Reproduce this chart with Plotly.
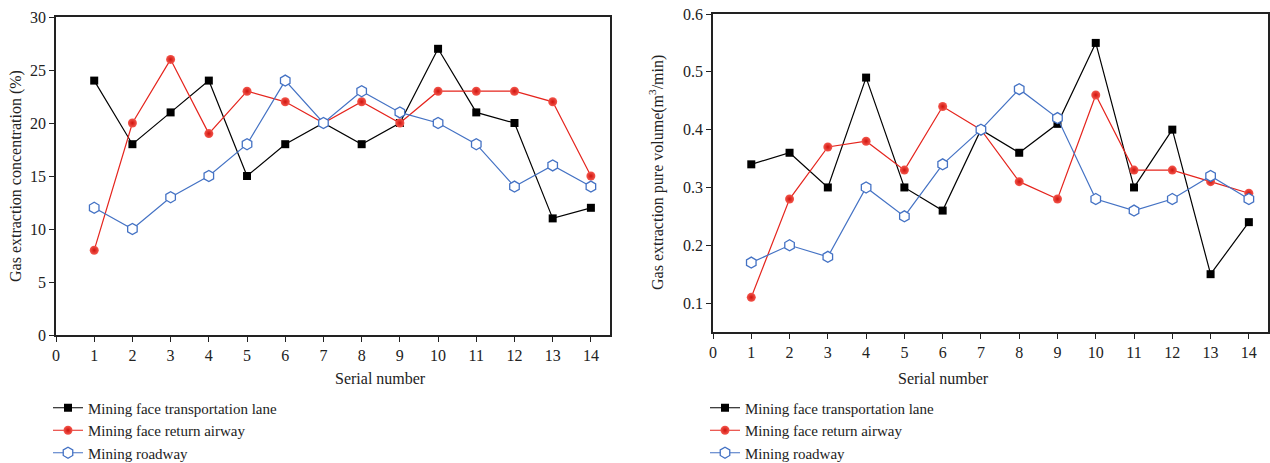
import plotly.graph_objects as go

serial = list(range(1, 15))

conc_transport = [24, 18, 21, 24, 15, 18, 20, 18, 20, 27, 21, 20, 11, 12]
conc_return = [8, 20, 26, 19, 23, 22, 20, 22, 20, 23, 23, 23, 22, 15]
conc_roadway = [12, 10, 13, 15, 18, 24, 20, 23, 21, 20, 18, 14, 16, 14]

vol_transport = [0.34, 0.36, 0.30, 0.49, 0.30, 0.26, 0.40, 0.36, 0.41, 0.55, 0.30, 0.40, 0.15, 0.24]
vol_return = [0.11, 0.28, 0.37, 0.38, 0.33, 0.44, 0.40, 0.31, 0.28, 0.46, 0.33, 0.33, 0.31, 0.29]
vol_roadway = [0.17, 0.20, 0.18, 0.30, 0.25, 0.34, 0.40, 0.47, 0.42, 0.28, 0.26, 0.28, 0.32, 0.28]

names = ["Mining face transportation lane", "Mining face return airway", "Mining roadway"]

FONT = "Liberation Serif"
FS = 16
BLACK = "#000000"
RED = "#e5241d"
BLUE = "#4472c4"

fig = go.Figure()


def add_series(x, y, xa, ya, legend):
    fig.add_trace(go.Scatter(
        x=x, y=y[0], xaxis=xa, yaxis=ya, name=names[0], legend=legend,
        mode="lines+markers", line=dict(color=BLACK, width=1.2),
        marker=dict(symbol="square", size=8, color=BLACK)))
    fig.add_trace(go.Scatter(
        x=x, y=y[1], xaxis=xa, yaxis=ya, name=names[1], legend=legend,
        mode="lines+markers", line=dict(color=RED, width=1.2),
        marker=dict(symbol="circle", size=9, color="#f4574d",
                    gradient=dict(type="radial", color="#d0140e"),
                    line=dict(width=0))))
    fig.add_trace(go.Scatter(
        x=x, y=y[2], xaxis=xa, yaxis=ya, name=names[2], legend=legend,
        mode="lines+markers", line=dict(color=BLUE, width=1.2),
        marker=dict(symbol="hexagon", size=11, color="white",
                    line=dict(color=BLUE, width=1.3))))


add_series(serial, [conc_transport, conc_return, conc_roadway], "x", "y", "legend")
add_series(serial, [vol_transport, vol_return, vol_roadway], "x2", "y2", "legend2")

axis_common = dict(
    showline=True, linecolor="#222", linewidth=1.6, mirror=True,
    ticks="outside", ticklen=5, tickwidth=1.2, tickcolor="#222",
    showgrid=False, zeroline=False, automargin=False,
    tickfont=dict(family=FONT, size=FS, color="#222"),
)

H = 463.0
W = 1270.0

legend_common = dict(xanchor="left", yanchor="bottom", y=-0.014,
                     bgcolor="rgba(0,0,0,0)", itemwidth=30, tracegroupgap=0,
                     font=dict(family=FONT, size=15, color="#222"))

fig.update_layout(
    width=1270, height=463,
    margin=dict(l=0, r=0, t=0, b=0, autoexpand=False),
    paper_bgcolor="white", plot_bgcolor="white",
    font=dict(family=FONT, size=FS, color="#222"),
    xaxis=dict(domain=[56 / W, 610 / W], range=[0, 14.5], tickmode="array",
               tickvals=list(range(0, 15)), anchor="y", **axis_common),
    yaxis=dict(domain=[1 - 335 / H, 1 - 17 / H], range=[0, 30], tickmode="array",
               tickvals=[0, 5, 10, 15, 20, 25, 30], anchor="x", **axis_common),
    xaxis2=dict(domain=[713 / W, 1268 / W], range=[0, 14.5], tickmode="array",
                tickvals=list(range(0, 15)), anchor="y2", **axis_common),
    yaxis2=dict(domain=[1 - 332 / H, 1 - 14 / H], range=[0.05, 0.6], tickmode="array",
                tickvals=[0.1, 0.2, 0.3, 0.4, 0.5, 0.6], ticktext=["0.1", "0.2", "0.3", "0.4", "0.5", "0.6"],
                anchor="x2", **axis_common),
    legend=dict(x=48 / W, **legend_common),
    legend2=dict(x=705 / W, **legend_common),
    annotations=[
        dict(text="Serial number", x=(56 + 610) / 2 / W, y=1 - 378 / H, xref="paper", yref="paper",
             yanchor="middle", showarrow=False, font=dict(family=FONT, size=FS, color="#222")),
        dict(text="Serial number", x=(713 + 1268) / 2 / W, y=1 - 378 / H, xref="paper", yref="paper",
             yanchor="middle", showarrow=False, font=dict(family=FONT, size=FS, color="#222")),
        dict(text="Gas extraction concentration (%)", x=16 / W, y=1 - 176 / H, xref="paper", yref="paper",
             xanchor="center", showarrow=False, textangle=-90, font=dict(family=FONT, size=FS, color="#222")),
        dict(text="Gas extraction pure volume(m<sup>3</sup>/min)", x=656 / W, y=1 - 173 / H,
             xref="paper", yref="paper", xanchor="center",
             showarrow=False, textangle=-90, font=dict(family=FONT, size=FS, color="#222")),
    ],
)

fig.write_html("out.html")
